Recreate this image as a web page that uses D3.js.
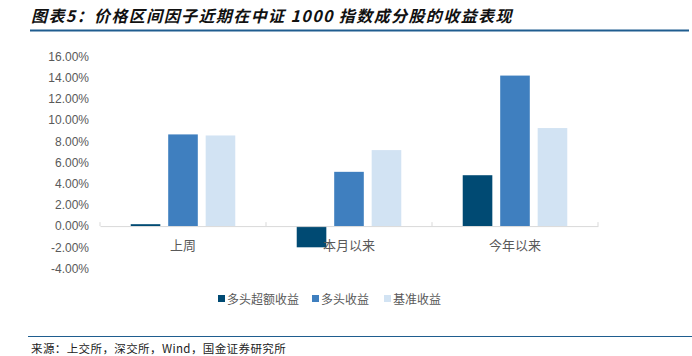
<!DOCTYPE html>
<html><head><meta charset="utf-8">
<script src="https://cdn.jsdelivr.net/npm/d3@7"></script>
<style>body{margin:0;background:#fff;} svg{display:block;}</style>
</head><body>
<svg id="c" width="692" height="356"></svg>
<script>
const categories = ["上周", "本月以来", "今年以来"];
const seriesNames = ["多头超额收益", "多头收益", "基准收益"];
const excessReturn = [0.18, -2.0, 4.8];
const longReturn = [8.65, 5.12, 14.2];
const benchReturn = [8.55, 7.17, 9.25];
const yTicks = [16, 14, 12, 10, 8, 6, 4, 2, 0, -2, -4];
const colors = ["#004a73", "#3f7fbf", "#d2e3f3"];
const title = "图表5：价格区间因子近期在中证 1000 指数成分股的收益表现";
const source = "来源：上交所，深交所，Wind，国金证券研究所";

const series = [excessReturn, longReturn, benchReturn];
const svg = d3.select("#c");

// title
svg.append("text").attr("x", 31).attr("y", 22)
  .attr("font-family", "'Noto Sans CJK SC'").attr("font-size", 16).attr("font-weight", "bold")
  .attr("font-style", "italic").attr("letter-spacing", 1.4).attr("fill", "#111").text(title);
svg.append("line").attr("x1", 30).attr("x2", 689).attr("y1", 30.5).attr("y2", 30.5)
  .attr("stroke", "#1f5d8f").attr("stroke-width", 2);

const x = d3.scaleBand().domain(categories).range([100, 598]).paddingInner(0).paddingOuter(0);
const y = d3.scaleLinear().domain([-4, 16]).range([268.5, 56.5]);
const xs = d3.scaleBand().domain(d3.range(3)).range([0, x.bandwidth()]).paddingInner(0.21).paddingOuter(0.82);

// y axis labels
const yAxis = d3.axisLeft(y).tickValues(yTicks).tickSize(0).tickPadding(0)
  .tickFormat(d => d.toFixed(2) + "%");
const ya = svg.append("g").attr("transform", "translate(89,0)").call(yAxis);
ya.select(".domain").remove();
ya.selectAll("text").attr("font-family", "Arial, 'Liberation Sans', sans-serif")
  .attr("font-size", 12).attr("fill", "#595959");

// bars
categories.forEach((c, i) => {
  series.forEach((s, j) => {
    const v = s[i];
    svg.append("rect")
      .attr("x", x(c) + xs(j))
      .attr("width", xs.bandwidth())
      .attr("y", y(Math.max(0, v)))
      .attr("height", Math.abs(y(v) - y(0)))
      .attr("fill", colors[j]);
  });
});

// x axis
const xa = svg.append("g").attr("transform", `translate(0,${y(0)})`)
  .call(d3.axisBottom(x).tickSize(0).tickPadding(0));
xa.select(".domain").attr("stroke", "#d9d9d9").attr("stroke-width", 1);
xa.selectAll("text").remove();
xa.selectAll(".tick line").remove();
[0, 1, 2, 3].forEach(k => {
  const px = 100 + k * x.bandwidth();
  svg.append("line").attr("x1", px).attr("x2", px).attr("y1", y(0)).attr("y2", y(0) - 4)
    .attr("stroke", "#d9d9d9");
});
categories.forEach(c => {
  svg.append("text").attr("x", x(c) + x.bandwidth() / 2).attr("y", 250)
    .attr("text-anchor", "middle").attr("font-family", "'Noto Sans CJK SC'")
    .attr("font-size", 13).attr("fill", "#595959").text(c);
});

// legend
const legendX = [218, 312, 384];
seriesNames.forEach((n, j) => {
  svg.append("rect").attr("x", legendX[j]).attr("y", 295).attr("width", 7).attr("height", 7)
    .attr("fill", colors[j]);
  svg.append("text").attr("x", legendX[j] + 9).attr("y", 303.5)
    .attr("font-family", "'Noto Sans CJK SC'").attr("font-size", 12).attr("fill", "#595959").text(n);
});

// source
svg.append("line").attr("x1", 28).attr("x2", 692).attr("y1", 336.5).attr("y2", 336.5)
  .attr("stroke", "#1f5d8f").attr("stroke-width", 1.2);
svg.append("text").attr("x", 31).attr("y", 353)
  .attr("font-family", "'Noto Sans CJK SC'").attr("font-size", 11.5).attr("letter-spacing", 0.4)
  .attr("fill", "#222").text(source);
</script>
</body></html>
